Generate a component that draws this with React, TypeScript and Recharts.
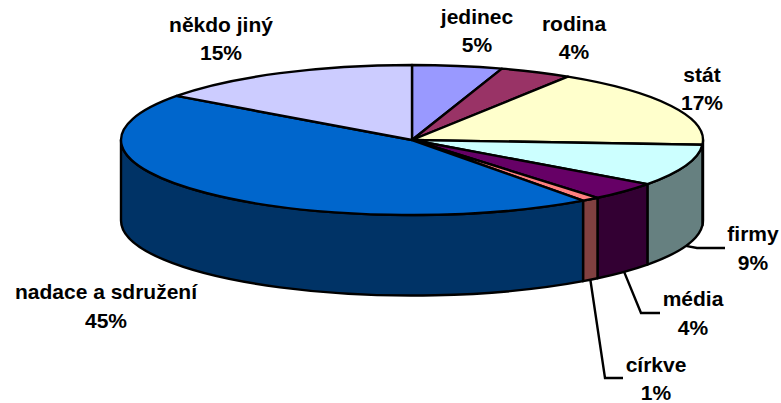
import React from 'react';
import { PieChart, Pie } from 'recharts';

const NAMES = ['jedinec', 'rodina', 'stát', 'firmy', 'média', 'církve', 'nadace a sdružení', 'někdo jiný'];
const VALUES = [5, 4, 17, 9, 4, 1, 45, 15];
const TOP_COLORS = ['#9999ff', '#993366', '#ffffcc', '#ccffff', '#660066', '#ff8080', '#0066cc', '#ccccff'];
const WALL_COLORS = ['#4d4d80', '#4d1a33', '#808066', '#668080', '#330033', '#804040', '#003366', '#666680'];

// label centres [x, firstLine y, secondLine y]
const LABEL_POS = [
  [477, 24, 52],
  [574, 31, 59],
  [702, 82, 110],
  [753, 241, 270],
  [693, 306, 335],
  [656, 372, 400],
  [106, 299, 328],
  [221, 32, 60],
];

// leader elbows for the small slices, the start is worked out from the slice
const LEADERS: Record<number, number[][]> = {
  3: [[697, 248], [725, 248]],
  4: [[641, 313], [660, 313]],
  5: [[605, 378], [623, 378]],
};

const chartData = NAMES.map((name, i) => ({
  name,
  value: VALUES[i],
  fill: TOP_COLORS[i],
  wall: WALL_COLORS[i],
}));

const CX = 412;
const CY = 140;
const RX = 291;
const RY = 75;
const DEPTH = 80.5;
const LINE = 2.4;

// t is measured clockwise from 12 o'clock
const pointAt = (t: number, dy = 0) => {
  const r = (t * Math.PI) / 180;
  return [CX + RX * Math.sin(r), CY - RY * Math.cos(r) + dy];
};

const TopSlice = (props: any) => {
  const t1 = 90 - props.startAngle;
  const t2 = 90 - props.endAngle;
  const [x1, y1] = pointAt(t1);
  const [x2, y2] = pointAt(t2);
  const large = t2 - t1 > 180 ? 1 : 0;
  const d = `M${CX},${CY} L${x1},${y1} A${RX},${RY} 0 ${large} 1 ${x2},${y2} Z`;
  return <path d={d} fill={props.fill} stroke="#000" strokeWidth={LINE} strokeLinejoin="round" />;
};

const WallSlice = (props: any) => {
  const t1 = Math.max(90 - props.startAngle, 90);
  const t2 = Math.min(90 - props.endAngle, 270);
  if (t2 <= t1) return <g />;
  const [x1, y1] = pointAt(t1);
  const [x2, y2] = pointAt(t2);
  const [x3, y3] = pointAt(t2, DEPTH);
  const [x4, y4] = pointAt(t1, DEPTH);
  const d = `M${x1},${y1} A${RX},${RY} 0 0 1 ${x2},${y2} L${x3},${y3} A${RX},${RY} 0 0 0 ${x4},${y4} Z`;
  return <path d={d} fill={props.wall} stroke="#000" strokeWidth={LINE} strokeLinejoin="round" />;
};

const SliceLabel = (props: any) => {
  const { index, midAngle } = props;
  const [x, y1, y2] = LABEL_POS[index];
  const elbows = LEADERS[index];
  const textStyle = { fontFamily: 'Liberation Sans', fontWeight: 700, fontSize: 21, fill: '#000' };
  return (
    <g>
      {elbows && (
        <polyline
          points={[pointAt(90 - midAngle, DEPTH), ...elbows].map((p) => p.join(',')).join(' ')}
          fill="none"
          stroke="#000"
          strokeWidth={LINE}
        />
      )}
      <text x={x} y={y1} textAnchor="middle" style={textStyle}>{NAMES[index]}</text>
      <text x={x} y={y2} textAnchor="middle" style={textStyle}>{VALUES[index]}%</text>
    </g>
  );
};

export default function App() {
  return (
    <div style={{ position: 'absolute', left: 0, top: 0, width: 781, height: 403, background: '#fff' }}>
      <PieChart width={781} height={403} margin={{ top: 0, right: 0, bottom: 0, left: 0 }}>
        <Pie
          data={chartData}
          dataKey="value"
          cx={CX}
          cy={CY}
          outerRadius={RX}
          startAngle={90}
          endAngle={-270}
          shape={WallSlice}
          isAnimationActive={false}
        />
        <Pie
          data={chartData}
          dataKey="value"
          cx={CX}
          cy={CY}
          outerRadius={RX}
          startAngle={90}
          endAngle={-270}
          shape={TopSlice}
          label={SliceLabel}
          labelLine={false}
          isAnimationActive={false}
        />
      </PieChart>
    </div>
  );
}
